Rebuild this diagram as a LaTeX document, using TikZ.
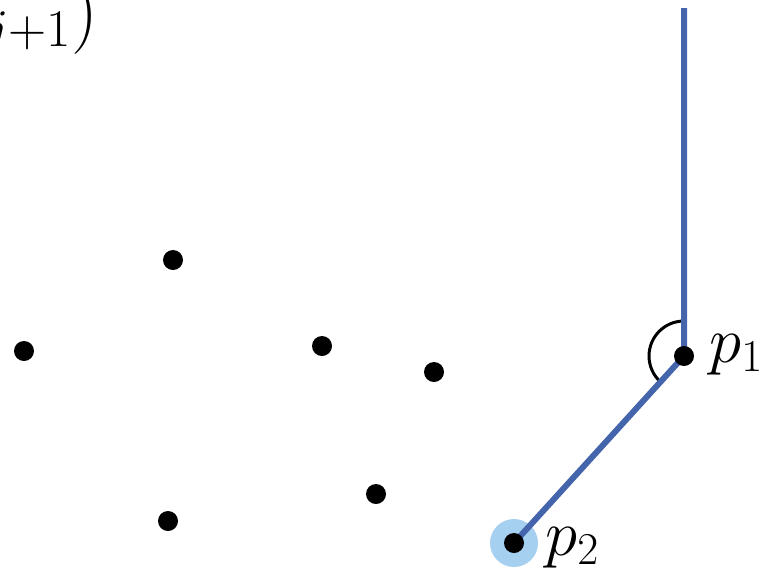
\RequirePackage{fix-cm}
\documentclass[tikz,border=0pt]{standalone}
\begin{document}
\begin{tikzpicture}[x=0.02cm,y=-0.02cm,
  pt/.style={fill=black,circle,inner sep=0pt,minimum size=0.4cm},
  lbl/.style={inner sep=0pt,font=\fontsize{37}{44}\selectfont},
  toplbl/.style={inner sep=0pt,font=\fontsize{43}{50}\selectfont},
  seg/.style={draw=lineblue,line width=3.4pt},
  ang/.style={draw=black,line width=1.7pt}]
\definecolor{lineblue}{RGB}{68,100,172}
\definecolor{haloblue}{RGB}{166,208,240}
\useasboundingbox (0,0) rectangle (759,572);
\clip (0,0) rectangle (759,572);
\coordinate (top) at (684,8);
\coordinate (p1) at (684,356);
\coordinate (p2) at (514,543);
\fill[haloblue] (p2) circle[radius=0.48cm];
\draw[ang] (p1) ++(90:0.7cm) arc[start angle=90,end angle=228,radius=0.7cm];
\draw[seg] (top) -- (p1) -- (p2);
\node[pt] (a) at (173,260) {};
\node[pt] (b) at (24,351) {};
\node[pt] (c) at (322,346) {};
\node[pt] (d) at (434,372) {};
\node[pt] (e) at (168,521) {};
\node[pt] (f) at (376,494) {};
\node[pt] (n2) at (p2) {};
\node[pt] (n1) at (p1) {};
\node[lbl,anchor=base west] (l1) at (709,362) {$p_1$};
\node[lbl,anchor=base west] (l2) at (545,555) {$p_2$};
\node[toplbl,anchor=base east] (lt) at (99,35) {$(p_j,p_{j+1})$};
\end{tikzpicture}
\end{document}
